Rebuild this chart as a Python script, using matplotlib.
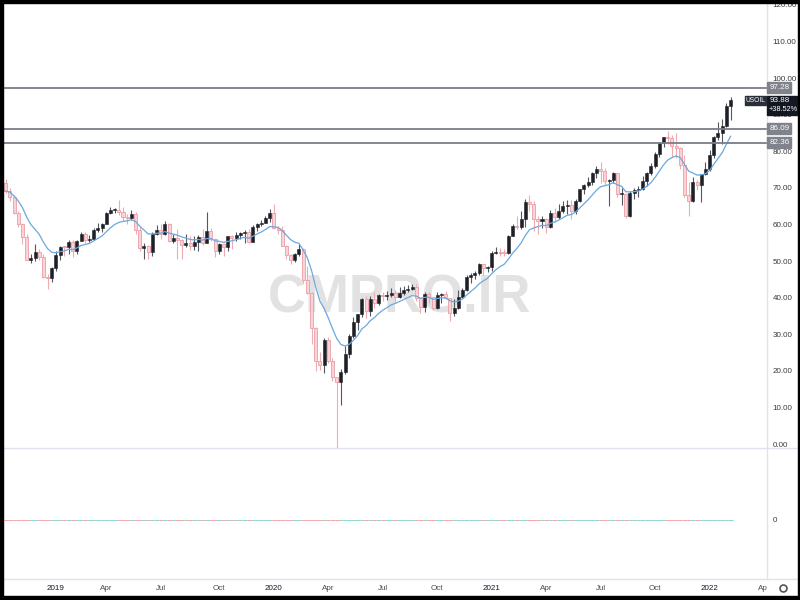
import numpy as np
import pandas as pd
import matplotlib
matplotlib.use('Agg')
import matplotlib.pyplot as plt
from matplotlib.patches import Rectangle
from matplotlib.lines import Line2D
from matplotlib import font_manager

# weekly USOIL candles, week of 2018-10-15 .. week of 2022-02-07
opens = [71.3, 69.1, 67.6, 63.1, 60.2, 56.5, 50.4, 50.9, 52.6, 51.2, 45.6, 45.3,
         # 2019
         48.0, 51.6, 53.8, 53.7, 55.3, 52.7, 55.6, 57.3, 55.8, 56.1, 58.5, 59.0, 60.1,
         63.1, 63.9, 64.0, 63.3, 61.9, 61.7, 62.8, 58.6, 53.5, 54.0, 52.5, 57.4, 58.5,
         57.5, 60.2, 55.6, 56.2, 55.7, 54.5, 54.9, 54.2, 55.1, 56.5, 54.9, 58.1, 56.0,
         52.8, 54.7, 53.8, 56.7, 56.2, 57.2, 57.7, 57.8, 55.2, 59.2, 60.1, 60.4, 61.7,
         # 2020
         63.05, 59.0, 58.5, 54.2, 51.6, 50.3, 52.05, 53.4, 44.8, 41.3, 31.7, 22.6, 21.5,
         28.3, 22.8, 18.3, 16.9, 19.8, 24.7, 29.4, 33.25, 35.5, 39.6, 36.3, 39.75, 38.5,
         40.65, 40.55, 40.6, 41.3, 40.3, 41.2, 42.0, 42.3, 42.97, 39.8, 37.3, 41.1, 40.25,
         37.05, 40.6, 40.9, 39.85, 35.8, 37.1, 40.1, 42.15, 45.5, 46.3, 46.6, 49.1, 48.2,
         # 2021
         48.5, 52.2, 52.4, 52.3, 52.2, 56.85, 59.5, 59.2, 61.5, 66.1, 65.6, 61.4, 60.97,
         61.45, 59.3, 63.1, 62.1, 63.6, 64.9, 65.4, 63.6, 66.3, 69.6, 70.9, 71.6, 74.05,
         75.2, 74.6, 71.8, 72.1, 73.95, 68.3, 68.4, 62.3, 68.7, 69.3, 69.7, 71.97, 73.98,
         75.9, 79.35, 82.3, 83.8, 83.6, 81.3, 80.8, 76.1, 68.15, 66.3, 71.7, 70.9, 73.8,
         # 2022
         75.2, 78.9, 83.8, 85.1, 86.8, 92.3]
highs = [72.4, 69.9, 68.0, 63.6, 60.5, 57.5, 52.0, 54.6, 53.3, 51.8, 46.5, 48.5,
         52.8, 54.1, 54.2, 55.8, 55.8, 55.8, 57.8, 57.9, 57.0, 58.9, 60.4, 60.3, 63.3,
         64.8, 64.4, 66.6, 64.8, 62.9, 63.9, 63.4, 59.4, 54.8, 54.5, 58.0, 59.9, 60.0,
         60.9, 60.3, 57.5, 58.8, 56.0, 57.5, 56.9, 56.9, 57.0, 58.8, 63.4, 59.0, 56.2,
         54.9, 54.8, 56.9, 57.0, 57.9, 58.0, 58.6, 58.7, 59.9, 60.3, 61.2, 62.3, 64.1,
         65.6, 59.5, 59.7, 54.5, 51.9, 52.3, 54.7, 53.5, 48.7, 41.5, 32.0, 25.2, 29.1,
         29.3, 23.4, 18.3, 20.5, 26.7, 30.0, 34.7, 35.6, 39.8, 40.4, 40.4, 41.6, 41.0,
         41.4, 41.9, 42.5, 42.1, 43.0, 43.1, 43.4, 43.8, 43.6, 39.8, 41.6, 41.5, 40.3,
         41.6, 41.3, 41.9, 39.9, 39.6, 42.0, 42.5, 46.3, 46.7, 47.3, 49.4, 49.3, 48.6,
         52.8, 53.9, 53.5, 53.4, 57.0, 60.0, 62.3, 63.8, 67.0, 67.98, 66.4, 62.3, 62.3,
         61.7, 64.0, 64.4, 65.5, 66.3, 66.7, 66.6, 66.9, 69.8, 71.0, 72.9, 74.2, 76.0,
         76.98, 75.5, 72.3, 74.2, 74.0, 69.9, 68.6, 69.0, 69.9, 70.4, 73.1, 74.2, 76.7,
         79.8, 82.4, 84.0, 85.4, 84.4, 84.9, 81.2, 79.1, 71.6, 72.9, 72.2, 73.9, 77.0,
         80.2, 84.2, 87.9, 88.8, 93.2, 94.7]
lows = [68.5, 66.3, 62.9, 59.3, 54.7, 50.2, 49.4, 50.1, 50.3, 45.3, 42.4, 44.4,
        47.4, 50.2, 51.3, 51.8, 51.2, 51.8, 55.4, 55.0, 55.1, 55.7, 58.0, 58.0, 60.0,
        62.8, 63.2, 62.6, 61.0, 60.0, 61.2, 57.3, 52.8, 50.6, 50.6, 51.3, 57.2, 55.9,
        57.2, 55.2, 55.0, 50.6, 50.5, 53.9, 53.1, 52.9, 52.8, 54.5, 54.9, 55.4, 51.0,
        51.9, 51.3, 52.8, 53.3, 55.6, 56.1, 55.0, 55.0, 55.2, 58.1, 59.6, 60.3, 60.6,
        58.7, 57.4, 54.0, 50.6, 49.3, 49.6, 51.3, 44.0, 41.1, 27.3, 20.0, 20.1, 19.3,
        22.0, 17.3, -37.6, 10.6, 19.0, 23.6, 29.0, 31.1, 34.6, 34.4, 35.1, 37.1, 37.9,
        39.1, 39.4, 40.1, 38.7, 40.0, 40.6, 41.5, 42.0, 39.2, 35.9, 36.1, 38.6, 36.6,
        36.9, 38.6, 39.5, 33.6, 34.9, 36.9, 40.0, 41.9, 43.9, 45.2, 46.1, 46.2, 47.1,
        47.2, 51.8, 51.4, 51.4, 51.8, 56.8, 58.8, 58.8, 59.3, 63.8, 58.3, 57.3, 58.9,
        57.6, 59.1, 60.6, 61.5, 63.2, 62.9, 61.6, 62.9, 66.1, 68.4, 70.3, 70.9, 72.7,
        71.2, 70.8, 65.0, 71.2, 67.6, 65.2, 61.7, 62.1, 67.0, 67.4, 69.4, 70.4, 73.6,
        75.3, 78.5, 81.2, 82.0, 78.3, 78.2, 75.1, 67.4, 62.4, 66.2, 69.3, 66.1, 73.5,
        74.5, 78.1, 83.0, 82.0, 86.5, 88.4]
closes = [69.1, 67.6, 63.1, 60.2, 56.5, 50.4, 50.9, 52.6, 51.2, 45.6, 45.3, 48.0,
          51.6, 53.8, 53.7, 55.3, 52.7, 55.6, 57.3, 55.8, 56.1, 58.5, 59.0, 60.1, 63.1,
          63.9, 64.0, 63.3, 61.9, 61.7, 62.8, 58.6, 53.5, 54.0, 52.5, 57.4, 58.5, 57.5,
          60.2, 55.6, 56.2, 55.7, 54.5, 54.9, 54.2, 55.1, 56.5, 54.9, 58.1, 56.0, 52.8,
          54.7, 53.8, 56.7, 56.2, 57.2, 57.7, 57.8, 55.2, 59.2, 60.1, 60.4, 61.7, 63.05,
          59.0, 58.5, 54.2, 51.6, 50.3, 52.05, 53.4, 44.8, 41.3, 31.7, 22.6, 21.5, 28.3,
          22.8, 18.3, 16.9, 19.8, 24.7, 29.4, 33.25, 35.5, 39.6, 36.3, 39.75, 38.5, 40.65,
          40.55, 40.6, 41.3, 40.3, 41.2, 42.0, 42.3, 42.97, 39.8, 37.3, 41.1, 40.25, 37.05,
          40.6, 40.9, 39.85, 35.8, 37.1, 40.1, 42.15, 45.5, 46.3, 46.6, 49.1, 48.2, 48.5,
          52.2, 52.4, 52.3, 52.2, 56.85, 59.5, 59.2, 61.5, 66.1, 65.6, 61.4, 60.97, 61.45,
          59.3, 63.1, 62.1, 63.6, 64.9, 65.4, 63.6, 66.3, 69.6, 70.9, 71.6, 74.05, 75.2,
          74.6, 71.8, 72.1, 73.95, 68.3, 68.4, 62.3, 68.7, 69.3, 69.7, 71.97, 73.98, 75.9,
          79.35, 82.3, 83.8, 83.6, 81.3, 80.8, 76.1, 68.15, 66.3, 71.7, 70.9, 73.8, 75.2,
          78.9, 83.8, 85.1, 86.8, 92.3, 93.88]
first_week = '2018-10-15'

levels = [97.28, 86.09, 82.36]
symbol = 'USOIL'
last_price = 93.88
change_text = '+38.52%'
watermark = 'CMPRO.IR'
price_ticks = [0, 10, 20, 30, 40, 50, 60, 70, 80, 90, 100, 110, 120]
month_labels = {4: 'Apr', 7: 'Jul', 10: 'Oct'}

names = {f.name for f in font_manager.fontManager.ttflist}
if 'Liberation Sans Narrow' in names:
    fam, fs, wm_fs = 'Liberation Sans Narrow', 6.5, 48
else:
    fam, fs, wm_fs = 'Liberation Sans', 5.8, 38
plt.rcParams['font.family'] = [fam, 'DejaVu Sans']

W, H = 800, 600
fig = plt.figure(figsize=(8, 6), dpi=100, facecolor='white')


def box(l, t, r, b):
    return [l / W, 1 - b / H, (r - l) / W, (b - t) / H]


def fx(x):
    return x / W


def fy(y):
    return 1 - y / H


ax = fig.add_axes(box(3, 3, 767, 448))
ax2 = fig.add_axes(box(3, 448, 767, 579))
ax3 = fig.add_axes(box(3, 579, 767, 596))

o = np.array(opens)
h = np.array(highs)
l = np.array(lows)
c = np.array(closes)
idx = np.arange(len(c))
up = c >= o
lo_b = np.minimum(o, c)
h_b = np.maximum(np.abs(c - o), 0.3)

ax.vlines(idx[up], l[up], h[up], color='#55585f', lw=0.8, zorder=2)
ax.vlines(idx[~up], l[~up], h[~up], color='#efabb2', lw=0.8, zorder=2)
ax.bar(idx[up], h_b[up], bottom=lo_b[up], width=0.72, color='#1e2028',
       edgecolor='#1e2028', lw=0.4, zorder=3)
ax.bar(idx[~up], h_b[~up], bottom=lo_b[~up], width=0.72, color='#f9d4d7',
       edgecolor='#ec9ca5', lw=0.6, zorder=3)

ema = pd.Series(c).ewm(span=10, adjust=False).mean()
ax.plot(idx, ema, color='#6aa8de', lw=0.9, zorder=4)

for lv in levels:
    ax.axhline(lv, color='#7b7e87', lw=1.3, zorder=5)

xlim = (-0.64, 181.7)
ax.set_xlim(*xlim)
ax.set_ylim(-1.09, 120.5)
ax.set_xticks([])
ax.yaxis.tick_right()
ax.set_yticks(price_ticks)
ax.set_yticklabels([f'{v:.2f}' for v in price_ticks])
ax.tick_params(axis='y', length=0, pad=4, labelsize=fs, labelcolor='#3a3a3a')
for s in ax.spines.values():
    s.set_visible(False)

ax.text(0.5196, 0.337, watermark, transform=ax.transAxes, ha='center', va='center',
        fontsize=wm_fs, fontweight='bold', color='#e2e2e2', zorder=0,
        family=[fam, 'DejaVu Sans'])

# lower pane
ax2.hlines(np.zeros(len(c)), idx - 0.5, idx + 0.5,
           colors=np.where(up, '#8fd4c9', '#f3a4ac'), lw=0.7)
ax2.set_xlim(*xlim)
ax2.set_ylim(-59, 72)
ax2.set_xticks([])
ax2.yaxis.tick_right()
ax2.set_yticks([0])
ax2.set_yticklabels(['0'])
ax2.tick_params(axis='y', length=0, pad=4, labelsize=fs, labelcolor='#3a3a3a')
for s in ax2.spines.values():
    s.set_visible(False)

# time axis
dates = pd.date_range(first_week, periods=len(c) + 10, freq='W-MON')
ax3.set_xlim(*xlim)
ax3.set_ylim(0, 1)
ax3.axis('off')
prev = None
for i, d in enumerate(dates):
    key = (d.year, d.month)
    if key != prev and prev is not None and d.month in (1, 4, 7, 10):
        if d.month == 1:
            ax3.text(i, 0.45, str(d.year), ha='center', va='center', fontsize=fs,
                     color='#131722', clip_on=True)
        else:
            ax3.text(i, 0.45, month_labels[d.month], ha='center', va='center',
                     fontsize=fs, color='#4a4a4a', clip_on=True)
    prev = key

# price scale labels
fig.canvas.draw()


def ypx(v):
    return H - ax.transData.transform((0, v))[1]


for lv in levels:
    yc = ypx(lv)
    fig.add_artist(Rectangle((fx(767), fy(yc + 5.5)), 24 / W, 11 / H,
                             transform=fig.transFigure, color='#80838c', zorder=20))
    fig.text(fx(770), fy(yc), f'{lv:.2f}', ha='left', va='center', fontsize=fs,
             color='white', zorder=21)

yc = ypx(last_price)
fig.add_artist(Rectangle((fx(767), fy(115)), 31 / W, (115 - (yc - 4.5)) / H,
                         transform=fig.transFigure, color='#131722', zorder=20))
fig.text(fx(770), fy(yc), f'{last_price:.2f}', ha='left', va='center', fontsize=fs,
         color='white', zorder=21)
fig.text(fx(769), fy(yc + 9), change_text, ha='left', va='center', fontsize=fs - 0.5,
         color='white', zorder=21)
fig.add_artist(Rectangle((fx(745), fy(yc + 4.5)), 21 / W, 9 / H,
                         transform=fig.transFigure, color='#2a2e39', zorder=20))
fig.text(fx(755.5), fy(yc), symbol, ha='center', va='center', fontsize=fs - 1,
         color='white', zorder=21)

# pane separators
sep = '#e0e3eb'
fig.add_artist(Line2D([fx(3), 1], [fy(448), fy(448)], color=sep, lw=1))
fig.add_artist(Line2D([fx(3), 1], [fy(579), fy(579)], color=sep, lw=1))
fig.add_artist(Line2D([fx(767), fx(767)], [fy(0), fy(579)], color=sep, lw=1))

# settings icon
fig.add_artist(Line2D([fx(783)], [fy(588)], marker='o', mfc='none', mec='#555555',
                      ms=5, mew=1.2))

# black frame
for r in [(0, 0, 3, 600), (0, 0, 800, 3), (0, 596, 800, 600), (798, 0, 800, 600)]:
    fig.add_artist(Rectangle((fx(r[0]), fy(r[3])), (r[2] - r[0]) / W, (r[3] - r[1]) / H,
                             transform=fig.transFigure, color='black', zorder=50))

fig.savefig('out.png', dpi=100)
